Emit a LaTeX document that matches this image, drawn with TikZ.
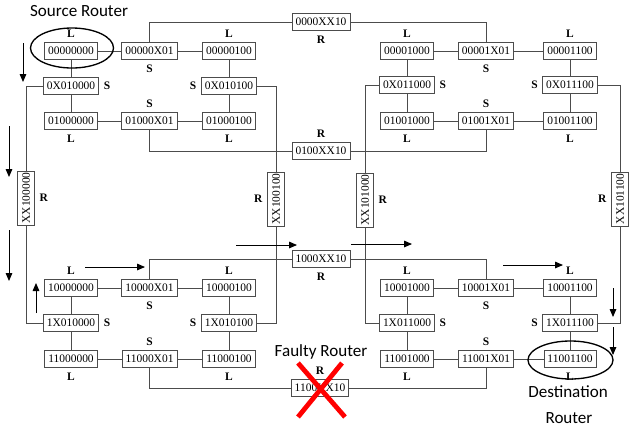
\documentclass[tikz,border=0pt]{standalone}
\usepackage{fontspec}
\usepackage{graphicx}
\setmainfont{Liberation Serif}
\newfontfamily\calib{Carlito}
\usetikzlibrary{arrows.meta,shapes.geometric}
\begin{document}
\begin{tikzpicture}[x=0.75pt,y=-0.75pt,
  box/.style={draw=black!70, line width=0.6pt, fill=white, inner xsep=2.6pt, inner ysep=0pt, minimum height=12.75pt, font=\fontsize{8.6}{9}\selectfont},
  vbox/.style={draw=black!70, line width=0.6pt, fill=white, inner sep=0pt, minimum width=12.75pt, minimum height=40.5pt, font=\fontsize{8.6}{9}\selectfont},
  wire/.style={draw=black!70, line width=0.6pt},
  every label/.style={font=\fontsize{8.6}{9}\selectfont\bfseries},
  flow/.style={line width=0.7pt, -{Triangle[length=6pt,width=5pt]}},
  title/.style={font=\calib\fontsize{12.8}{14}\selectfont, inner sep=0pt},
  ring/.style={draw=black, line width=1pt, ellipse, inner sep=0pt},
  cross/.style={draw=red, line width=3.6pt}
  ]
\useasboundingbox (0,0) rectangle (629,426);

% ---- top-left block
\node[box,label=above:L] (a00) at (71,51) {00000000};
\node[box,label=below:S] (a01) at (149.5,51) {00000X01};
\node[box,label=above:L] (a02) at (229,51) {00000100};
\node[box,label=right:S] (a10) at (71,86) {0X010000};
\node[box,label=left:S] (a12) at (229,86) {0X010100};
\node[box,label=below:L] (a20) at (71,121) {01000000};
\node[box,label=above:S] (a21) at (149.5,121) {01000X01};
\node[box,label=below:L] (a22) at (229,121) {01000100};

% ---- top-right block
\node[box,label=above:L] (b00) at (407,51) {00001000};
\node[box,label=below:S] (b01) at (486,51) {00001X01};
\node[box,label=above:L] (b02) at (570,51) {00001100};
\node[box,label=right:S] (b10) at (407,85) {0X011000};
\node[box,label=left:S] (b12) at (570,85) {0X011100};
\node[box,label=below:L] (b20) at (407,121) {01001000};
\node[box,label=above:S] (b21) at (486,121) {01001X01};
\node[box,label=below:L] (b22) at (570,121) {01001100};

% ---- bottom-left block
\node[box,label=above:L] (c00) at (71,288) {10000000};
\node[box,label=below:S] (c01) at (149.5,288) {10000X01};
\node[box,label=above:L] (c02) at (229,288) {10000100};
\node[box,label=right:S] (c10) at (71,323) {1X010000};
\node[box,label=left:S] (c12) at (229,323) {1X010100};
\node[box,label=below:L] (c20) at (71,359) {11000000};
\node[box,label=above:S] (c21) at (149.5,359) {11000X01};
\node[box,label=below:L] (c22) at (229,359) {11000100};

% ---- bottom-right block
\node[box,label=above:L] (d00) at (407,288) {10001000};
\node[box,label=below:S] (d01) at (486,288) {10001X01};
\node[box,label=above:L] (d02) at (570,288) {10001100};
\node[box,label=right:S] (d10) at (407,323) {1X011000};
\node[box,label=left:S] (d12) at (570,323) {1X011100};
\node[box,label=below:L] (d20) at (407,359) {11001000};
\node[box,label=above:S] (d21) at (486,359) {11001X01};
\node[box,label=below:L] (d22) at (570,359) {11001100};

% ---- R routers
\node[box,label=below:R] (r1) at (321,22) {0000XX10};
\node[box,label=above:R] (r2) at (321,151) {0100XX10};
\node[box,label=below:R] (r3) at (321,259) {1000XX10};
\node[box,label=above:R] (r4) at (320,388) {1100XX10};

\node[vbox,label=right:R] (v1) at (26,198) {\rotatebox{90}{XX100000}};
\node[vbox,label=left:R] (v2) at (276,199) {\rotatebox{90}{XX100100}};
\node[vbox,label=right:R] (v3) at (365,200) {\rotatebox{90}{XX101000}};
\node[vbox,label=left:R] (v4) at (620,199) {\rotatebox{90}{XX101100}};

% ---- wires inside blocks
\foreach \p in {a,b,c,d}{
  \draw[wire] (\p00) -- (\p01) -- (\p02);
  \draw[wire] (\p20) -- (\p21) -- (\p22);
  \draw[wire] (\p00) -- (\p10) -- (\p20);
  \draw[wire] (\p02) -- (\p12) -- (\p22);
}
% ---- wires to R routers
\draw[wire] (a01.north) |- (r1.west);
\draw[wire] (b01.north) |- (r1.east);
\draw[wire] (a21.south) |- (r2.west);
\draw[wire] (b21.south) |- (r2.east);
\draw[wire] (c01.north) |- (r3.west);
\draw[wire] (d01.north) |- (r3.east);
\draw[wire] (c21.south) |- (r4.west);
\draw[wire] (d21.south) |- (r4.east);
\draw[wire] (a10.west) -| (v1.north);
\draw[wire] (v1.south) |- (c10.west);
\draw[wire] (a12.east) -| (v2.north);
\draw[wire] (v2.south) |- (c12.east);
\draw[wire] (b10.west) -| (v3.north);
\draw[wire] (v3.south) |- (d10.west);
\draw[wire] (b12.east) -| (v4.north);
\draw[wire] (v4.south) |- (d12.east);

% ---- source / destination
\node[ring, minimum width=62.25pt, minimum height=30pt] (src) at (72,48) {};
\node[ring, minimum width=63.75pt, minimum height=28.5pt] (dst) at (570.5,360) {};
\node[title] (srcT) at (79,11) {Source Router};
\node[title] (fltT) at (321,352) {Faulty Router};
\node[title] (dstT1) at (568,392) {Destination};
\node[title] (dstT2) at (569,418) {Router};

% ---- faulty cross
\coordinate (x1) at (298,363); \coordinate (x2) at (345,417);
\coordinate (x3) at (342,363); \coordinate (x4) at (298,417);
\draw[cross] (x1) -- (x2);
\draw[cross] (x3) -- (x4);

% ---- route arrows
\coordinate (f1a) at (23,43);  \coordinate (f1b) at (23,82);
\coordinate (f2a) at (9,126);  \coordinate (f2b) at (9,177);
\coordinate (f3a) at (9,230);  \coordinate (f3b) at (9,281);
\coordinate (f4a) at (36,313); \coordinate (f4b) at (36,283);
\coordinate (f5a) at (85,267); \coordinate (f5b) at (145,267);
\coordinate (f6a) at (236,245); \coordinate (f6b) at (297,245);
\coordinate (f7a) at (351,244); \coordinate (f7b) at (412,244);
\coordinate (f8a) at (503,265); \coordinate (f8b) at (563,265);
\coordinate (f9a) at (613,288); \coordinate (f9b) at (613,317);
\coordinate (f10a) at (613,327); \coordinate (f10b) at (613,355);
\foreach \i in {1,...,10}{ \draw[flow] (f\i a) -- (f\i b); }
\end{tikzpicture}
\end{document}
